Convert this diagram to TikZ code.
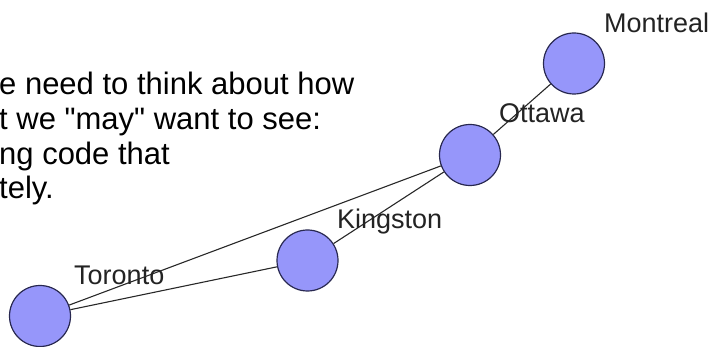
\documentclass[tikz,border=0pt]{standalone}
\usepackage{fontspec}
\setmainfont{Liberation Sans}
\definecolor{cityfill}{RGB}{150,150,250}
\definecolor{citydraw}{RGB}{40,40,80}
\definecolor{roadcol}{RGB}{40,40,40}
\definecolor{labelcol}{RGB}{35,35,35}
\begin{document}
\begin{tikzpicture}[x=1pt,y=-1pt,
  city/.style={circle, draw=citydraw, fill=cityfill, line width=1.2pt, minimum size=61pt, inner sep=0pt},
  road/.style={draw=roadcol, line width=1.1pt},
  lbl/.style={anchor=base west, inner sep=0pt, font=\fontsize{27}{30}\selectfont, text=labelcol},
  para/.style={anchor=base west, inner sep=0pt, font=\fontsize{31}{35}\selectfont, text=black}]
\useasboundingbox (0,0) rectangle (712,347);
% paragraph fragments
\node[para] (p1) at (-1,95) {e need to think about how};
\node[para] (p2) at (-1,129.5) {t we \textquotedbl may\textquotedbl{} want to see:};
\node[para] (p3) at (-1,165) {ng code that};
\node[para] (p4) at (-1,198.5) {tely.};
% cities
\node[city] (tor) at (40,316) {};
\node[city] (kin) at (307.5,260.5) {};
\node[city] (ott) at (470,155) {};
\node[city] (mon) at (574,63.5) {};
% roads
\draw[road] (tor) -- (ott);
\draw[road] (tor) -- (kin);
\draw[road] (kin) -- (ott);
\draw[road] (ott) -- (mon);
% labels
\node[lbl] (ltor) at (74,284) {Toronto};
\node[lbl] (lkin) at (337,229) {Kingston};
\node[lbl] (lott) at (499,123) {Ottawa};
\node[lbl] (lmon) at (604,33) {Montreal};
\end{tikzpicture}
\end{document}
